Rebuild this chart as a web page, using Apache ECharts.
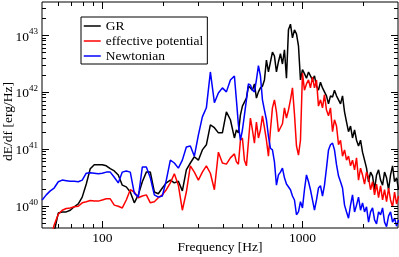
<!DOCTYPE html>
<html>
<head>
<meta charset="utf-8">
<script src="https://cdn.jsdelivr.net/npm/echarts@6/dist/echarts.min.js"></script>
<style>
html,body{margin:0;padding:0;background:#fff;}
#chart{width:399px;height:257px;}
</style>
</head>
<body>
<div id="chart"></div>
<script>
// Frequencies [Hz]
const freqHz = [
  50.1, 52.5, 55.0, 57.5, 60.3, 63.1, 66.1, 69.2, 72.4, 75.9, 79.4, 83.2, 87.1, 91.2, 95.5,
  100, 104.7, 109.6, 114.8, 120.2, 125.9, 131.8, 138.0, 144.5, 151.4, 158.5, 166.0, 173.8, 182.0, 190.5,
  199.5, 208.9, 218.8, 229.1, 239.9, 251.2, 263.0, 275.4, 288.4, 302.0, 316.2, 331.1, 346.7, 363.1, 380.2,
  398.1, 416.9, 436.5, 457.1,
  467.7, 478.6, 489.8, 501.2, 512.9, 524.8, 537.0, 549.5, 562.3, 575.4, 588.8, 602.6, 616.6, 631.0, 645.7,
  660.7, 676.1, 691.8, 707.9, 724.4, 741.3, 758.6, 776.2, 794.3, 812.8, 831.8, 851.1, 871.0, 891.3, 912.0,
  933.3, 955.0, 977.2, 1000, 1023, 1047, 1072, 1096, 1122, 1148, 1175, 1202, 1230, 1259, 1288,
  1318, 1349, 1380, 1413, 1445, 1479, 1514, 1549, 1585, 1622, 1660, 1698, 1738, 1778, 1820,
  1862, 1905, 1950, 1995, 2042, 2089, 2138, 2188, 2239, 2291, 2344, 2399, 2455, 2512, 2570,
  2630, 2692, 2754, 2818, 2884, 2951, 3020
];
// log10 of dE/df [erg/Hz]
const grLog10 = [
  39.40, 39.40, 39.40, 39.54, 39.87, 39.89, 39.89, 39.92, 39.98, 40.03, 40.15, 40.38, 40.65, 40.72, 40.72,
  40.72, 40.70, 40.65, 40.61, 40.54, 40.36, 40.33, 40.24, 40.05, 40.19, 40.42, 40.59, 40.59, 40.24, 40.21,
  40.31, 40.40, 40.45, 40.40, 40.43, 40.26, 40.63, 40.75, 40.86, 40.80, 40.98, 41.07, 41.42, 41.37, 41.28,
  41.28, 41.65, 41.51, 41.19,
  41.33, 41.28, 41.59, 41.75, 41.82, 41.89, 42.10, 42.07, 42.03, 42.14, 41.89, 42.00, 42.07, 42.10, 42.21,
  42.56, 42.35, 42.35, 42.70, 42.63, 42.35, 42.53, 42.67, 42.49, 42.74, 42.24, 43.09, 43.19, 42.95, 43.09,
  43.02, 42.81, 42.21, 42.39, 42.32, 42.24, 42.35, 42.28, 42.21, 42.28, 42.10, 42.03, 42.17, 42.07, 42.00,
  41.93, 41.79, 41.93, 41.91, 42.03, 41.93, 41.86, 41.79, 41.93, 41.65, 41.47, 41.30, 41.40, 41.19, 41.33,
  41.15, 41.05, 41.15, 40.94, 40.80, 40.66, 40.42, 40.59, 40.52, 40.28, 40.54, 40.63, 40.45, 40.36, 40.59,
  40.49, 40.28, 40.54, 40.70, 40.42, 40.49, 40.28
];
const effLog10 = [
  39.40, 39.40, 39.40, 39.66, 39.85, 39.92, 39.95, 39.96, 39.98, 39.99, 40.05, 40.07, 40.09, 40.08, 40.08,
  40.10, 40.12, 40.12, 40.01, 39.99, 39.96, 40.10, 40.28, 40.24, 40.14, 40.17, 40.19, 40.05, 40.07, 40.14,
  40.19, 40.28, 40.40, 40.56, 40.36, 39.92, 40.24, 40.70, 40.59, 40.45, 40.59, 40.70, 40.57, 40.28, 40.94,
  40.75, 40.73, 40.84, 40.91,
  40.77, 40.73, 41.15, 41.19, 40.80, 40.70, 41.12, 41.54, 41.33, 41.10, 41.47, 41.19, 41.33, 41.58, 41.37,
  41.15, 40.87, 41.33, 41.72, 41.86, 41.65, 41.30, 41.37, 41.44, 41.72, 41.54, 41.68, 41.86, 42.07, 41.61,
  41.05, 40.89, 41.15, 42.33, 42.03, 42.14, 42.21, 42.07, 42.26, 42.07, 42.21, 41.75, 41.86, 41.72, 41.95,
  41.68, 41.58, 41.72, 41.30, 41.51, 41.40, 41.07, 41.15, 40.87, 40.98, 40.80, 40.87, 40.70, 40.80, 40.63,
  40.84, 40.45, 40.66, 40.54, 40.38, 40.59, 40.49, 40.28, 40.42, 40.19, 40.38, 40.14, 40.35, 40.10, 40.28,
  40.07, 40.31, 40.10, 39.98, 40.24, 40.03, 40.17
];
const newtLog10 = [
  40.10, 40.19, 40.26, 40.31, 40.42, 40.45, 40.44, 40.43, 40.43, 40.42, 40.45, 40.57, 40.58, 40.57, 40.56,
  40.57, 40.59, 40.59, 40.50, 40.40, 40.59, 40.61, 40.59, 40.22, 40.15, 40.68, 40.68, 40.49, 40.19, 40.15,
  40.17, 40.45, 40.80, 40.75, 40.66, 40.80, 41.03, 41.05, 40.87, 41.24, 41.56, 41.72, 42.35, 41.81, 41.98,
  42.07, 42.00, 42.21, 42.28,
  41.86, 41.42, 41.15, 41.33, 41.59, 41.86, 42.14, 42.12, 42.03, 42.00, 42.21, 42.46, 42.28, 41.86, 41.68,
  41.51, 41.22, 41.01, 40.98, 40.77, 40.36, 40.54, 40.59, 40.66, 40.49, 40.38, 40.35, 40.28, 40.17, 40.10,
  39.84, 39.89, 40.07, 39.96, 40.28, 40.54, 40.42, 40.28, 40.10, 39.92, 40.10, 40.31, 40.35, 40.17, 40.36,
  40.66, 40.98, 41.07, 41.10, 40.98, 40.72, 40.52, 40.42, 40.31, 40.01, 39.89, 39.78, 40.01, 40.19, 39.89,
  40.01, 40.15, 39.92, 40.05, 39.89, 39.98, 39.71, 39.89, 39.96, 39.75, 39.68, 39.89, 39.84, 39.96, 39.71,
  39.63, 39.82, 39.89, 39.71, 39.78, 39.64, 39.75
];
const seriesNames = ['GR', 'effective potential', 'Newtonian'];
const seriesColors = ['#000000', '#ff0000', '#0000ff'];

const xMajorTicks = [100, 1000];
const xMinorTicks = [60, 70, 80, 90, 200, 300, 400, 500, 600, 700, 800, 900, 2000];
const yMajorTicks = [1e40, 1e41, 1e42, 1e43];
const yMinorTicks = [5e39, 6e39, 7e39, 8e39, 9e39,
  2e40, 3e40, 4e40, 5e40, 6e40, 7e40, 8e40, 9e40,
  2e41, 3e41, 4e41, 5e41, 6e41, 7e41, 8e41, 9e41,
  2e42, 3e42, 4e42, 5e42, 6e42, 7e42, 8e42, 9e42,
  2e43, 3e43];

const X_MIN = 50, X_MAX = 3000, Y_MIN = 4.05e39, Y_MAX = 3.8e43;
const FONT = "'Liberation Serif', 'Times New Roman', serif";

function toData(logs) {
  return freqHz.map((f, i) => [f, Math.pow(10, logs[i])]);
}

const tickData = [];
xMajorTicks.forEach(v => tickData.push([v, Y_MIN, 0, 1]));
xMinorTicks.forEach(v => tickData.push([v, Y_MIN, 0, 0]));
yMajorTicks.forEach(v => tickData.push([X_MIN, v, 1, 1]));
yMinorTicks.forEach(v => tickData.push([X_MIN, v, 1, 0]));

const chart = echarts.init(document.getElementById('chart'), null, {renderer: 'canvas'});
const lineSeries = [grLog10, effLog10, newtLog10].map((arr, i) => ({
  name: seriesNames[i],
  type: 'line',
  data: toData(arr),
  symbol: 'none',
  showSymbol: false,
  clip: true,
  lineStyle: {color: seriesColors[i], width: 1.5},
  itemStyle: {color: seriesColors[i]},
  z: 2 + i
}));

chart.setOption({
  animation: false,
  backgroundColor: '#ffffff',
  grid: {left: 42, right: 1, top: 2, bottom: 29, containLabel: false, outerBoundsMode: 'none',
    show: true, borderColor: '#000', borderWidth: 1, backgroundColor: 'transparent'},
  legend: {
    data: seriesNames,
    orient: 'vertical',
    left: 81,
    top: 17,
    padding: [2, 4, 1, 2],
    itemGap: 1,
    itemWidth: 17,
    itemHeight: 14,
    borderColor: '#000',
    borderWidth: 1,
    backgroundColor: '#fff',
    itemStyle: {opacity: 0},
    lineStyle: {width: 1.5},
    textStyle: {fontFamily: FONT, fontSize: 13.5, color: '#000', lineHeight: 14},
    selectedMode: false
  },
  xAxis: {
    type: 'log',
    logBase: 10,
    min: X_MIN,
    max: X_MAX,
    name: 'Frequency [Hz]',
    nameLocation: 'middle',
    nameGap: 12,
    nameMoveOverlap: false,
    nameTextStyle: {fontFamily: FONT, fontSize: 13.5, color: '#000'},
    axisLine: {show: false},
    axisTick: {show: false},
    splitLine: {show: false},
    axisLabel: {
      fontFamily: FONT, fontSize: 13.5, color: '#000', margin: 3,
      showMinLabel: false, showMaxLabel: false,
      formatter: v => String(Math.round(v))
    }
  },
  yAxis: {
    type: 'log',
    logBase: 10,
    min: Y_MIN,
    max: Y_MAX,
    name: 'dE/df [erg/Hz]',
    nameLocation: 'middle',
    nameGap: 27,
    nameMoveOverlap: false,
    nameTextStyle: {fontFamily: FONT, fontSize: 13.5, color: '#000', padding: [0, 13, 0, 0]},
    axisLine: {show: false},
    axisTick: {show: false},
    splitLine: {show: false},
    axisLabel: {
      margin: 4,
      showMinLabel: false, showMaxLabel: false,
      formatter: v => '{b|10}{s|' + Math.round(Math.log10(v)) + '}',
      rich: {
        b: {fontFamily: FONT, fontSize: 13.5, color: '#000', lineHeight: 16, padding: [4, 0, 0, 0]},
        s: {fontFamily: FONT, fontSize: 9, color: '#000', verticalAlign: 'top', lineHeight: 10}
      }
    }
  },
  series: lineSeries.concat([{
    type: 'custom',
    coordinateSystem: 'cartesian2d',
    data: tickData,
    encode: {x: 0, y: 1},
    clip: false,
    silent: true,
    z: 10,
    renderItem: function (params, api) {
      const cs = params.coordSys;
      const p = api.coord([api.value(0), api.value(1)]);
      const isY = api.value(2) === 1;
      const len = api.value(3) === 1 ? 7 : 4;
      const st = {stroke: '#000', lineWidth: 1};
      if (!isY) {
        const x = Math.round(p[0]) + 0.5;
        return {type: 'group', children: [
          {type: 'line', shape: {x1: x, y1: cs.y + cs.height, x2: x, y2: cs.y + cs.height - len}, style: st},
          {type: 'line', shape: {x1: x, y1: cs.y, x2: x, y2: cs.y + len}, style: st}
        ]};
      }
      const y = Math.round(p[1]) + 0.5;
      return {type: 'group', children: [
        {type: 'line', shape: {x1: cs.x, y1: y, x2: cs.x + len, y2: y}, style: st},
        {type: 'line', shape: {x1: cs.x + cs.width, y1: y, x2: cs.x + cs.width - len, y2: y}, style: st}
      ]};
    }
  }])
});
</script>
</body>
</html>
